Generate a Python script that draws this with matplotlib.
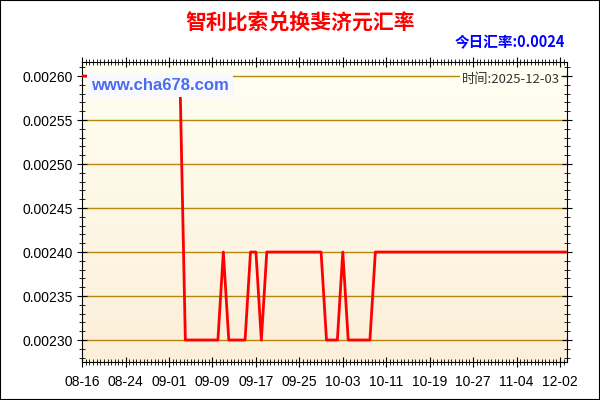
import numpy as np
import matplotlib.pyplot as plt
from matplotlib.ticker import MultipleLocator, AutoMinorLocator, FixedLocator
from matplotlib.patches import Rectangle

plt.rcParams['font.family'] = ['Liberation Sans', 'Noto Sans CJK SC', 'DejaVu Sans']

# data (index = day from 08-16)
hi = 0.0026
lo = 0.0023
mid = 0.0024
rates = ([hi] * 19 + [lo] * 7 + [mid] + [lo] * 4 + [mid] * 2 + [lo] + [mid] * 11
         + [lo] * 3 + [mid] + [lo] * 5 + [mid] * 36)
tick_pos = [0, 8, 16, 24, 32, 40, 48, 56, 64, 72, 80, 88]
tick_labels = ['08-16', '08-24', '09-01', '09-09', '09-17', '09-25', '10-03',
               '10-11', '10-19', '10-27', '11-04', '12-02']
title = '智利比索兑换斐济元汇率'
today = '今日汇率:0.0024'
stamp = '时间:2025-12-03'

fig = plt.figure(figsize=(6, 4), dpi=100)
fig.patches.append(Rectangle((0, 0), 1, 1, transform=fig.transFigure,
                             fill=False, edgecolor='black', linewidth=1.5))
ax = fig.add_axes([0.137, 0.095, 0.808, 0.75])

x = np.arange(len(rates))
ax.set_xlim(0, 89.3)
ax.set_ylim(0.002275, 0.002616)

# gradient background
grad = np.linspace(0, 1, 256).reshape(-1, 1)
top = np.array([1.0, 1.0, 0.95])
bot = np.array([0.99, 0.935, 0.85])
img = top + (bot - top) * grad[:, :, None] * np.ones((1, 1, 3))
ax.imshow(img, extent=[0, 1, 0, 1], transform=ax.transAxes, aspect='auto', zorder=0)

ax.yaxis.set_major_locator(MultipleLocator(0.00005))
ax.yaxis.set_minor_locator(AutoMinorLocator(5))
ax.xaxis.set_major_locator(FixedLocator(tick_pos))
ax.xaxis.set_minor_locator(MultipleLocator(8 / 12))
ax.set_xticklabels(tick_labels)
ax.yaxis.set_major_formatter(plt.FuncFormatter(lambda v, p: '%.5f' % v))
ax.grid(axis='y', color='#b8860b', linewidth=1)
ax.set_axisbelow(True)

ax.tick_params(axis='both', which='both', direction='inout', colors='black', labelsize=10,
               top=True, right=True)
ax.tick_params(which='major', length=7)
ax.tick_params(which='minor', length=4)
ax.tick_params(axis='x', pad=6)

ax.plot(x, rates, color='red', linewidth=2, zorder=3)

fig.text(0.5, 0.945, title, ha='center', va='center', color='red', fontsize=15,
         fontweight='bold', family=['Noto Sans CJK SC', 'DejaVu Sans'])
fig.text(0.942, 0.895, today, ha='right', va='center', color='blue', fontsize=10.5,
         fontweight='bold', family=['Noto Sans CJK SC', 'DejaVu Sans'])
ax.text(0.985, 0.94, stamp, transform=ax.transAxes, ha='right', va='center',
        color='#333333', fontsize=9.5, family=['Noto Sans CJK SC', 'DejaVu Sans'], zorder=4,
        bbox=dict(facecolor='#fffff2', edgecolor='none', pad=1))
ax.text(0.019, 0.923, 'www.cha678.com', transform=ax.transAxes, ha='left', va='center',
        color='#4a6cf0', fontsize=12, fontweight='bold', zorder=4,
        bbox=dict(facecolor='#f8f8ff', edgecolor='none', pad=3))

fig.savefig('out.png', dpi=100)
